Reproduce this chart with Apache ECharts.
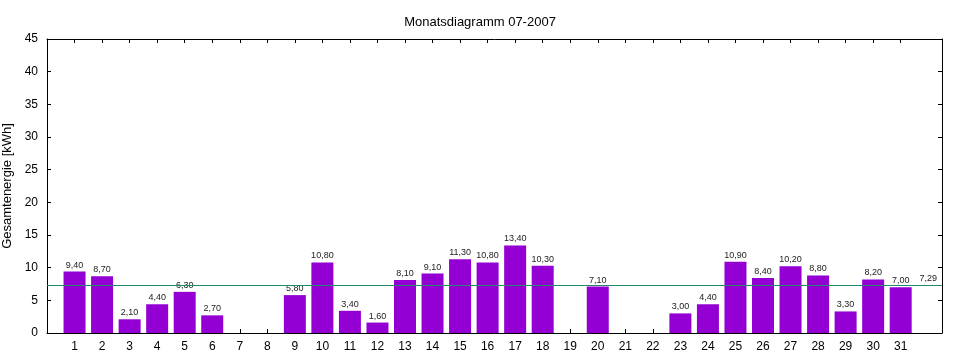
<!DOCTYPE html>
<html>
<head>
<meta charset="utf-8">
<script src="https://cdn.jsdelivr.net/npm/echarts@6/dist/echarts.min.js"></script>
<style>html,body{margin:0;padding:0;background:#fff}#c{width:960px;height:360px}</style>
</head>
<body>
<div id="c"></div>
<script>
var title = 'Monatsdiagramm 07-2007';
var yName = 'Gesamtenergie [kWh]';
var days = [1,2,3,4,5,6,7,8,9,10,11,12,13,14,15,16,17,18,19,20,21,22,23,24,25,26,27,28,29,30,31];
var energy = [9.4,8.7,2.1,4.4,6.3,2.7,null,null,5.8,10.8,3.4,1.6,8.1,9.1,11.3,10.8,13.4,10.3,null,7.1,null,null,3.0,4.4,10.9,8.4,10.2,8.8,3.3,8.2,7.0];
var average = 7.29;
var averageX = 32;
var yTicks = [0,5,10,15,20,25,30,35,40,45];

var FONT = '"Liberation Sans", Arial, sans-serif';
function fmt(v){ return v.toFixed(2).replace('.', ','); }

var barData = days.map(function(d,i){ return [d, energy[i]]; }).filter(function(p){ return p[1] != null; });

var chart = echarts.init(document.getElementById('c'), null, {renderer:'canvas'});
var axisLine = {show:true, onZero:false, lineStyle:{color:'#000', width:1}};
var tick = {show:true, inside:true, length:4, lineStyle:{color:'#000'}};
chart.setOption({
  animation:false,
  backgroundColor:'#fff',
  textStyle:{fontFamily:FONT},
  title:{text:title, left:'center', top:11, textStyle:{fontSize:13, fontWeight:'normal', color:'#000', fontFamily:FONT}},
  grid:{left:47, right:18, top:39, bottom:27, containLabel:false, outerBoundsMode:'none'},
  xAxis:[{
    type:'value', min:0, max:32.5, interval:1, position:'bottom',
    axisLine:axisLine,
    axisTick:Object.assign({}, tick, {customValues:days}),
    axisLabel:{customValues:days, color:'#000', fontSize:12, fontFamily:FONT, margin:8},
    splitLine:{show:false}
  },{
    type:'value', min:0, max:32.5, interval:1, position:'top',
    axisLine:axisLine,
    axisTick:Object.assign({}, tick, {customValues:days}),
    axisLabel:{show:false},
    splitLine:{show:false}
  }],
  yAxis:[{
    type:'value', min:yTicks[0], max:yTicks[yTicks.length-1], interval:5, position:'left',
    name:yName, nameLocation:'middle', nameGap:28, nameRotate:90,
    nameTextStyle:{fontSize:13, color:'#000', fontFamily:FONT},
    axisLine:axisLine, axisTick:tick,
    axisLabel:{color:'#000', fontSize:12, fontFamily:FONT, margin:9},
    splitLine:{show:false}
  },{
    type:'value', min:yTicks[0], max:yTicks[yTicks.length-1], interval:5, position:'right',
    axisLine:axisLine, axisTick:tick, axisLabel:{show:false}, splitLine:{show:false}
  }],
  series:[{
    type:'bar', data:barData, barWidth:22,
    itemStyle:{color:'#9400d3'},
    label:{show:true, position:'top', distance:2, fontSize:9, color:'#222', fontFamily:FONT,
      formatter:function(p){ return fmt(p.value[1]); }},
    markLine:{silent:true, symbol:'none', label:{show:false},
      lineStyle:{color:'#1f8a6c', width:1, type:'solid', opacity:1},
      data:[{yAxis:average}]},
    z:2
  },{
    type:'scatter', data:[[averageX, average]], symbolSize:1,
    itemStyle:{color:'rgba(0,0,0,0)', opacity:1},
    label:{show:true, position:'top', distance:2, fontSize:9, color:'#222', opacity:1, fontFamily:FONT,
      formatter:function(p){ return fmt(p.value[1]); }}
  }]
});
</script>
</body>
</html>
